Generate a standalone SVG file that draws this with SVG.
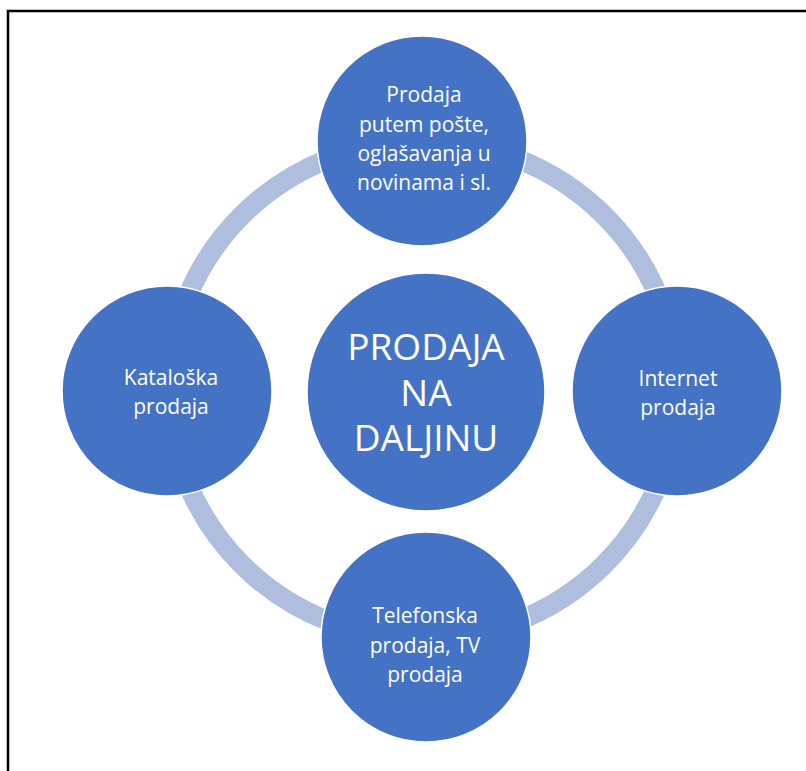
<svg xmlns="http://www.w3.org/2000/svg" width="806" height="771" viewBox="0 0 806 771">
<style>
.node{fill:#4472C4;stroke:#FFFFFF;stroke-width:1.5}
.t{font-family:"Open Sans","Liberation Sans",sans-serif;fill:#FFFFFF;text-anchor:middle;font-size:21px}
.big{font-size:37px}
</style>
<rect width="806" height="771" fill="#FFFFFF"/>
<path d="M8 771 V11 H806" fill="none" stroke="#000000" stroke-width="2.5"/>
<g id="connectors">
<ellipse cx="423" cy="390" rx="254" ry="249" fill="none" stroke="#AFBDDF" stroke-width="20"/>
</g>
<g id="top">
<circle class="node" cx="422" cy="141" r="105"/>
<text class="t" x="424" y="102">Prodaja</text>
<text class="t" x="424" y="132">putem pošte,</text>
<text class="t" x="424" y="161">oglašavanja u</text>
<text class="t" x="424" y="190">novinama i sl.</text>
</g>
<g id="left">
<circle class="node" cx="167" cy="391" r="105"/>
<text class="t" x="171" y="385">Kataloška</text>
<text class="t" x="171" y="414">prodaja</text>
</g>
<g id="right">
<circle class="node" cx="677" cy="391" r="105"/>
<text class="t" x="678" y="386">Internet</text>
<text class="t" x="678" y="415">prodaja</text>
</g>
<g id="bottom">
<circle class="node" cx="426" cy="637" r="105"/>
<text class="t" x="425" y="623">Telefonska</text>
<text class="t" x="425" y="653">prodaja, TV</text>
<text class="t" x="425" y="682">prodaja</text>
</g>
<g id="center">
<circle class="node" cx="426" cy="392" r="119"/>
<text class="t big" x="426" y="360">PRODAJA</text>
<text class="t big" x="426" y="406">NA</text>
<text class="t big" x="426" y="451">DALJINU</text>
</g>
</svg>
